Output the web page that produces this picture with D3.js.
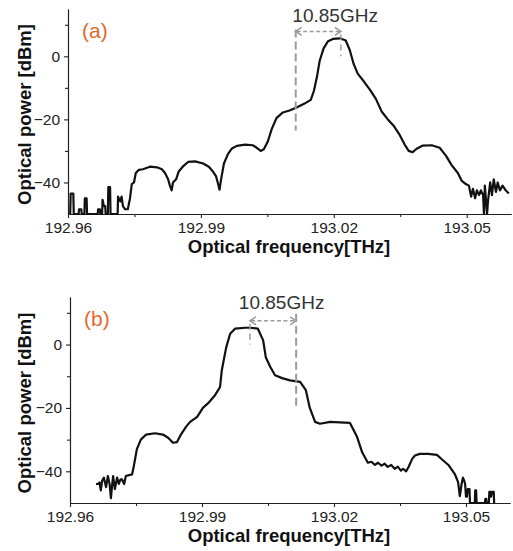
<!DOCTYPE html>
<html>
<head>
<meta charset="utf-8">
<script src="https://cdn.jsdelivr.net/npm/d3@7"></script>
<style>
  body { margin: 0; background: #fff; }
  svg text { font-family: "Liberation Sans", Arial, sans-serif; }
  .axis path, .axis line { stroke: #222; stroke-width: 1.1; }
  .axis text { font-size: 15.5px; fill: #222; }
</style>
</head>
<body>
<script>
// ---- data ----
// panel (a)
var freqA = [192.9605, 192.9606, 192.9612, 192.9613, 192.9624, 192.9625, 192.9630, 192.9631, 192.9637, 192.9638,
  192.9642, 192.9643, 192.9667, 192.9668, 192.9672, 192.9673, 192.9677, 192.9678, 192.9681, 192.9684,
  192.9685, 192.9690, 192.9691, 192.9695, 192.9696, 192.9712, 192.9713, 192.9718, 192.9721, 192.9724,
  192.9729, 192.9735, 192.9740, 192.9744, 192.9749, 192.9753, 192.9760, 192.9769, 192.9785, 192.9801,
  192.9812, 192.9819, 192.9826, 192.9830, 192.9834, 192.9837, 192.9844, 192.9850, 192.9859, 192.9871,
  192.9887, 192.9905, 192.9918, 192.9927, 192.9934, 192.9938, 192.9942, 192.9945, 192.9952, 192.9961,
  192.9970, 192.9981, 193.0000, 193.0017, 193.0026, 193.0035, 193.0042, 193.0051, 193.0060, 193.0071,
  193.0085, 193.0100, 193.0116, 193.0134, 193.0148, 193.0155, 193.0162, 193.0168, 193.0177, 193.0187,
  193.0198, 193.0214, 193.0227, 193.0236, 193.0245, 193.0254, 193.0268, 193.0281, 193.0295, 193.0308,
  193.0322, 193.0335, 193.0349, 193.0360, 193.0369, 193.0378, 193.0387, 193.0401, 193.0421, 193.0439,
  193.0453, 193.0466, 193.0480, 193.0489, 193.0498, 193.0505, 193.0510, 193.0514, 193.0519, 193.0523,
  193.0528, 193.0532, 193.0537, 193.0539, 193.0541, 193.0546, 193.0548, 193.0553, 193.0557, 193.0561,
  193.0566, 193.0570, 193.0575, 193.0581, 193.0588, 193.0595];
var powerA = [-50, -43.5, -43.5, -50, -50, -48.5, -48.5, -50, -50, -45,
  -45, -50, -50, -48.5, -48.5, -50, -50, -45.5, -47.5, -47.5,
  -50, -50, -41.5, -41.5, -50, -50, -44.5, -46, -44.5, -47.5,
  -48.5, -48.5, -45, -40.5, -40, -37, -36, -35.8, -35, -35.2,
  -35.8, -37, -39, -41, -42.5, -40, -39, -36.5, -35, -33.5,
  -33.3, -34, -35, -36.5, -38, -40, -42.3, -39.5, -34, -31,
  -29.2, -28.4, -28, -28.2, -29, -30, -29.5, -27, -23, -19.5,
  -17.8, -17.2, -16.2, -15, -13.8, -11, -6.5, -1.5, 2.5, 4.8,
  5.5, 5.7, 5, 2, -2.5, -5.5, -8, -10.5, -13.5, -17.5,
  -20, -22, -25, -28, -30, -30.4, -29.3, -28.3, -28.2, -29,
  -31.5, -34.5, -37, -39.5, -40.5, -41, -44.5, -42, -45, -42.5,
  -44, -42.5, -44, -50, -41, -50, -46, -40, -44, -39,
  -43, -40, -42.5, -41, -42.5, -43.5];

// panel (b)
var freqB = [192.9659, 192.9664, 192.9667, 192.9670, 192.9673, 192.9677, 192.9682, 192.9686, 192.9690, 192.9693,
  192.9696, 192.9698, 192.9702, 192.9707, 192.9711, 192.9715, 192.9718, 192.9723, 192.9727, 192.9734,
  192.9741, 192.9745, 192.9752, 192.9761, 192.9773, 192.9793, 192.9811, 192.9823, 192.9834, 192.9843,
  192.9852, 192.9864, 192.9873, 192.9889, 192.9902, 192.9914, 192.9930, 192.9941, 192.9945, 192.9955,
  192.9964, 192.9975, 192.9998, 193.0009, 193.0027, 193.0039, 193.0045, 193.0055, 193.0066, 193.0082,
  193.0100, 193.0123, 193.0136, 193.0145, 193.0157, 193.0168, 193.0191, 193.0236, 193.0252, 193.0264,
  193.0277, 193.0285, 193.0293, 193.0300, 193.0308, 193.0315, 193.0322, 193.0330, 193.0338, 193.0345,
  193.0352, 193.0357, 193.0364, 193.0370, 193.0378, 193.0384, 193.0395, 193.0414, 193.0434, 193.0445,
  193.0460, 193.0475, 193.0482, 193.0486, 193.0490, 193.0493, 193.0496, 193.0498, 193.0500, 193.0502,
  193.0504, 193.0508, 193.0509, 193.0520, 193.0521, 193.0523, 193.0524, 193.0543, 193.0544, 193.0546,
  193.0547, 193.0552, 193.0553, 193.0556, 193.0557, 193.0559, 193.0563, 193.0564];
var powerB = [-44, -44, -43.5, -46, -43, -42, -45, -41.5, -44, -48.5,
  -44, -41.5, -45.6, -42, -44, -42.5, -42.5, -44, -41.5, -41.2,
  -41, -38.4, -33, -30, -28.4, -28, -28.4, -29.4, -31, -30.8,
  -28.4, -25.9, -24.4, -22.8, -20, -18.5, -15.9, -13.4, -8.1, -0.9,
  3.4, 5, 5.3, 5.3, 5, 1.3, -4, -7, -9.7, -10.6,
  -11.3, -11.8, -14.4, -20, -24.4, -25, -24.4, -24.7, -29, -34,
  -37.3, -37, -38, -37.3, -38.2, -37.6, -38.6, -38, -39.2, -38.5,
  -39.8, -39.2, -40, -38.5, -36, -35, -34.5, -34.5, -34.8, -36.2,
  -38, -41, -43.4, -47.8, -44, -42, -43, -44, -48, -48,
  -45.6, -45.6, -50, -50, -46, -46, -50, -50, -48.7, -48.7,
  -50, -50, -46.5, -46.5, -48, -46.5, -46.5, -50];

// axes
var xDomain = [192.96, 193.06];
var yDomain = [-50, 15];
var xMajor = [192.96, 192.99, 193.02, 193.05];
var xMinor = [192.975, 193.005, 193.035];
var yMajor = [0, -20, -40];
var yMinor = [10, -10, -30];
var xTitle = "Optical frequency[THz]";
var yTitle = "Optical power [dBm]";
var spacingText = "10.85GHz";

// annotation: dashed guide freq, peak freq and label centre in THz, heights in dB
var annoA = { guide: 193.0114, peak: 193.0216, textF: 193.0203, guideTop: 8.5, guideBottom: -23.5, arrowY: 7.9, textY: 11, label: "(a)" };
var annoB = { guide: 193.0114, peak: 193.0009, textF: 193.0081, guideTop: 9.7, guideBottom: -20.6, arrowY: 7.5, textY: 11.2, label: "(b)" };

var width = 513, height = 551;
var svg = d3.select("body").append("svg")
  .attr("width", width)
  .attr("height", height);

function drawPanel(box, freq, power, anno) {
  var g = svg.append("g");

  var scaleX = d3.scaleLinear().domain(xDomain).range([box.left, box.right]);
  var scaleY = d3.scaleLinear().domain(yDomain).range([box.bottom, box.top]);

  // x axis, labelled and minor ticks
  g.append("g").attr("class", "axis")
    .attr("transform", "translate(0," + box.bottom + ")")
    .call(d3.axisBottom(scaleX).tickValues(xMajor).tickFormat(d3.format(".2f")).tickSize(4).tickSizeOuter(0).tickPadding(4));
  g.append("g").attr("class", "axis")
    .attr("transform", "translate(0," + box.bottom + ")")
    .call(d3.axisBottom(scaleX).tickValues(xMinor).tickFormat("").tickSize(3).tickSizeOuter(0));

  g.append("g").attr("class", "axis")
    .attr("transform", "translate(" + box.left + ",0)")
    .call(d3.axisLeft(scaleY).tickValues(yMajor).tickSize(4).tickSizeOuter(0).tickPadding(4));
  g.append("g").attr("class", "axis")
    .attr("transform", "translate(" + box.left + ",0)")
    .call(d3.axisLeft(scaleY).tickValues(yMinor).tickFormat("").tickSize(3).tickSizeOuter(0));

  // axis titles
  g.append("text")
    .attr("x", 289)
    .attr("y", box.bottom + 39)
    .style("text-anchor", "middle")
    .style("font-size", "18.5px")
    .style("font-weight", "bold")
    .style("fill", "#111")
    .text(xTitle);

  g.append("text")
    .attr("transform", "rotate(-90)")
    .attr("x", -(box.top + box.bottom) / 2 - 3)
    .attr("y", 31)
    .style("text-anchor", "middle")
    .style("font-size", "18.5px")
    .style("font-weight", "bold")
    .style("fill", "#111")
    .text(yTitle);

  // panel letter
  g.append("text")
    .attr("x", box.left + 14)
    .attr("y", box.top + 29)
    .style("font-size", "21px")
    .style("fill", "#e4682d")
    .text(anno.label);

  // spectrum
  var pts = d3.zip(freq, power);
  var line = d3.line()
    .x(function(d) { return scaleX(d[0]); })
    .y(function(d) { return scaleY(d[1]); });
  g.append("path")
    .attr("d", line(pts))
    .attr("fill", "none")
    .attr("stroke", "#111")
    .attr("stroke-width", 2.2)
    .attr("stroke-linejoin", "round");

  // spacing annotation
  var grey = "#9a9a9a";
  g.append("line")
    .attr("x1", scaleX(anno.guide)).attr("x2", scaleX(anno.guide))
    .attr("y1", scaleY(anno.guideTop)).attr("y2", scaleY(anno.guideBottom))
    .attr("stroke", grey).attr("stroke-width", 2).attr("stroke-dasharray", "8,4");
  g.append("line")
    .attr("x1", scaleX(anno.peak)).attr("x2", scaleX(anno.peak))
    .attr("y1", scaleY(anno.arrowY) + 3).attr("y2", scaleY(0))
    .attr("stroke", grey).attr("stroke-width", 1.5).attr("stroke-dasharray", "6,4");

  var ax1 = Math.min(scaleX(anno.guide), scaleX(anno.peak)),
      ax2 = Math.max(scaleX(anno.guide), scaleX(anno.peak)),
      ay = scaleY(anno.arrowY);
  g.append("line")
    .attr("x1", ax1 + 1).attr("x2", ax2 - 1)
    .attr("y1", ay).attr("y2", ay)
    .attr("stroke", grey).attr("stroke-width", 1.5).attr("stroke-dasharray", "4,2.5");
  g.append("path")
    .attr("d", "M" + (ax1 + 6) + "," + (ay - 4) + "L" + ax1 + "," + ay + "L" + (ax1 + 6) + "," + (ay + 4) +
               "M" + (ax2 - 6) + "," + (ay - 4) + "L" + ax2 + "," + ay + "L" + (ax2 - 6) + "," + (ay + 4))
    .attr("fill", "none").attr("stroke", grey).attr("stroke-width", 1.5);

  g.append("text")
    .attr("x", scaleX(anno.textF))
    .attr("y", scaleY(anno.textY))
    .style("text-anchor", "middle")
    .style("font-size", "19px")
    .style("fill", "#333")
    .text(spacingText);
}

drawPanel({ left: 68, right: 511, top: 9, bottom: 214 }, freqA, powerA, annoA);
drawPanel({ left: 70, right: 510, top: 297, bottom: 503 }, freqB, powerB, annoB);
</script>
</body>
</html>
